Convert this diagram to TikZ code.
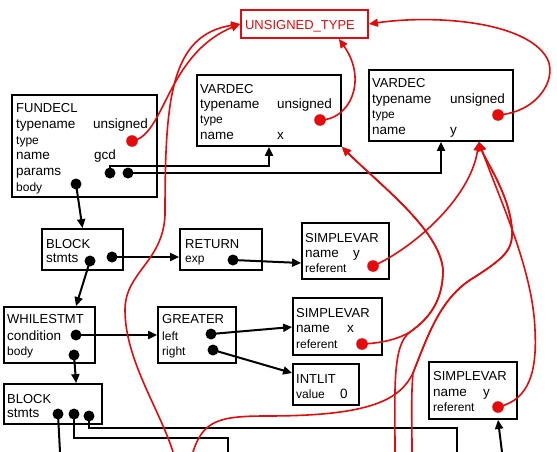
\documentclass[tikz,border=0pt]{standalone}
\usepackage{fontspec}
\setmainfont{Liberation Sans}
\usetikzlibrary{arrows.meta,calc}
\definecolor{rd}{RGB}{230,10,10}
\begin{document}
\begin{tikzpicture}[x=1pt,y=-1pt,
  box/.style={draw=black,line width=1.8pt,inner sep=0pt,rectangle},
  hd/.style={anchor=base west,inner sep=0pt,font=\fontsize{13}{13}\selectfont},
  lb/.style={anchor=base west,inner sep=0pt,font=\fontsize{13.5}{13.5}\selectfont},
  sm/.style={anchor=base west,inner sep=0pt,font=\fontsize{12}{12}\selectfont},
  blk/.style={line width=2pt,black},
  blka/.style={blk,-{Triangle[length=9pt,width=8pt]}},
  rdl/.style={line width=1.6pt,rd},
  rda/.style={rdl,-{Triangle[length=9pt,width=8pt]}},
  ]
\useasboundingbox (0,0) rectangle (557,452);
\clip (0,0) rectangle (557,452);
\fill[white] (0,0) rectangle (557,452);

% boxes
\node[box,minimum width=145pt,minimum height=102pt] (fundecl) at (84.5,146) {};
\node[box,minimum width=144pt,minimum height=71pt] (vardecx) at (269,110.5) {};
\node[box,minimum width=144pt,minimum height=71pt] (vardecy) at (441,105.5) {};
\node[box,draw=rd,minimum width=127pt,minimum height=28pt] (unsigned) at (304.5,24) {};
\node[box,minimum width=81pt,minimum height=41pt] (block1) at (82.5,249.5) {};
\node[box,minimum width=82pt,minimum height=41pt] (ret) at (221,249.5) {};
\node[box,minimum width=87pt,minimum height=56pt] (sv1) at (345.5,251) {};
\node[box,minimum width=91pt,minimum height=56pt] (while) at (49.5,335) {};
\node[box,minimum width=78pt,minimum height=56pt] (greater) at (197,335) {};
\node[box,minimum width=89pt,minimum height=57pt] (svx) at (337.5,326.5) {};
\node[box,minimum width=66pt,minimum height=41pt] (intlit) at (326,384.5) {};
\node[box,minimum width=98pt,minimum height=40pt] (block2) at (53,404) {};
\node[box,minimum width=88pt,minimum height=57pt] (sv2) at (473,390.5) {};

% texts
\node[anchor=base,inner sep=0pt,text=rd,font=\fontsize{13}{13}\selectfont] (tu) at (300,29.5) {UNSIGNED\_TYPE};

\node[hd] (f1) at (16,113) {FUNDECL};
\node[lb] (f2) at (16,128.6) {typename};
\node[sm] (f3) at (16,144.2) {type};
\node[lb] (f4) at (16,159.8) {name};
\node[lb] (f5) at (16,175.4) {params};
\node[sm] (f6) at (16,191) {body};
\node[lb] (f7) at (93,128.6) {unsigned};
\node[lb] (f8) at (94,159.8) {gcd};

\node[hd] (x1) at (200,93) {VARDEC};
\node[lb] (x2) at (200,108) {typename};
\node[sm] (x3) at (200,123) {type};
\node[lb] (x4) at (200,139) {name};
\node[lb] (x5) at (277,108) {unsigned};
\node[lb] (x6) at (277,139) {x};

\node[hd] (y1) at (372,88) {VARDEC};
\node[lb] (y2) at (372,103) {typename};
\node[sm] (y3) at (372,118) {type};
\node[lb] (y4) at (372,134) {name};
\node[lb] (y5) at (450,103) {unsigned};
\node[lb] (y6) at (450,134) {y};

\node[hd] (b11) at (46,248) {BLOCK};
\node[lb] (b12) at (46,262) {stmts};

\node[hd] (r1) at (185,248) {RETURN};
\node[sm] (r2) at (185,262) {exp};

\node[hd] (s11) at (305,242) {SIMPLEVAR};
\node[lb] (s12) at (305,257) {name};
\node[lb] (s13) at (353,257) {y};
\node[sm] (s14) at (305,272) {referent};

\node[hd] (w1) at (7,323) {WHILESTMT};
\node[lb] (w2) at (7,340) {condition};
\node[sm] (w3) at (7,355) {body};

\node[hd] (g1) at (162,323) {GREATER};
\node[sm] (g2) at (162,340) {left};
\node[sm] (g3) at (162,355) {right};

\node[hd] (sx1) at (296,317) {SIMPLEVAR};
\node[lb] (sx2) at (296,332) {name};
\node[lb] (sx3) at (347,332) {x};
\node[sm] (sx4) at (296,348) {referent};

\node[hd] (i1) at (296,383) {INTLIT};
\node[sm] (i2) at (296,398) {value};
\node[lb] (i3) at (340,398) {0};

\node[hd] (b21) at (7,403) {BLOCK};
\node[lb] (b22) at (7,417) {stmts};

\node[hd] (s21) at (433,380) {SIMPLEVAR};
\node[lb] (s22) at (433,396) {name};
\node[lb] (s23) at (483,396) {y};
\node[sm] (s24) at (433,411) {referent};

% dot coordinates
\coordinate (fdtype) at (132,141);
\coordinate (p1) at (110,173);
\coordinate (p2) at (128,173);
\coordinate (fdbody) at (76,184);
\coordinate (vxtype) at (320,120);
\coordinate (vytype) at (498,115);
\coordinate (b1a) at (90,261);
\coordinate (b1b) at (112,257);
\coordinate (retexp) at (233,260);
\coordinate (sv1ref) at (373,266);
\coordinate (whcond) at (76,335);
\coordinate (whbody) at (74,355);
\coordinate (grleft) at (211,334);
\coordinate (grright) at (213,350);
\coordinate (svxref) at (362,344);
\coordinate (b2a) at (58,414);
\coordinate (b2b) at (74,414);
\coordinate (b2c) at (89,416);
\coordinate (sv2ref) at (498,407);
% free ends at the bottom edge
\coordinate (e1) at (60,452);
\coordinate (e2) at (228,452);
\coordinate (e3) at (457,452);
\coordinate (e4) at (502,452);
\coordinate (L1) at (173,452);
\coordinate (L2) at (193,452);
\coordinate (L3) at (412,452);
\coordinate (L4) at (395,452);
\coordinate (vyin) at ($(vardecy.south east)+(-35,0)$);
\coordinate (utin) at ($(unsigned.south east)+(-30,0)$);

% black connectors
\draw[blka] (p1) -- (p1 |- 0,166) -| (vardecx.south);
\draw[blka] (p2) -| (vardecy.south);
\draw[blka] (fdbody) -- (block1.north);
\draw[blka] (b1b) -- (ret.west |- b1b);
\draw[blka] (b1a) -- (while.north -| whcond);
\draw[blka] (retexp) -- (sv1.west |- 0,263);
\draw[blka] (whcond) -- (greater.west |- whcond);
\draw[blka] (whbody) -- ($(block2.north west)+(73,0)$);
\draw[blka] (grleft) -- (svx.west |- 0,327);
\draw[blka] (grright) -- (intlit.west |- 0,373);
\draw[blk] (b2a) -- (e1);
\draw[blk] (b2b) -- (b2b |- 0,438) -| (e2);
\draw[blk] (b2c) -- (b2c |- 0,428) -| (e3);
\draw[blka] (e4) -- (sv2.south -| sv2ref);

% red connectors
\draw[rda] (fdtype) .. controls (165,136) and (166,55) .. (unsigned.west);
\draw[rda] (L1) .. controls (160,410) and (125,360) .. (125,310)
  .. controls (125,272) and (163,262) .. (165,215)
  .. controls (165,100) and (170,35) .. (unsigned.west);
\draw[rda] (vxtype) .. controls (350,120) and (368,80) .. (utin);
\draw[rda] (vytype) .. controls (540,112) and (560,75) .. (545,55)
  .. controls (520,20) and (430,15) .. (unsigned.east);
\draw[rda] (sv1ref) .. controls (410,250) and (470,200) .. (vyin);
\draw[rda] (sv2ref) .. controls (530,400) and (537,370) .. (535,330)
  .. controls (533,270) and (500,200) .. (vyin);
\draw[rda] (L2) .. controls (203,420) and (220,416) .. (267,416)
  .. controls (370,416) and (400,400) .. (413,373)
  .. controls (428,335) and (440,300) .. (470,280)
  .. controls (505,258) and (513,250) .. (512,230)
  .. controls (510,195) and (485,160) .. (vyin);
\draw[rda] (L3) .. controls (412,420) and (411,395) .. (413,373)
  .. controls (428,335) and (440,300) .. (470,280)
  .. controls (505,258) and (513,250) .. (512,230)
  .. controls (510,195) and (485,160) .. (vyin);
\draw[rda] (svxref) .. controls (385,343) and (400,338) .. (410,332)
  .. controls (430,318) and (443,300) .. (443,270)
  .. controls (440,230) and (380,185) .. (vardecx.south east);
\draw[rda] (L4) .. controls (395,390) and (392,345) .. (410,332)
  .. controls (430,318) and (443,300) .. (443,270)
  .. controls (440,230) and (380,185) .. (vardecx.south east);

% dots
\foreach \d in {p1,p2,fdbody,b1a,b1b,retexp,whcond,whbody,grleft,grright,b2a,b2b,b2c}
  \fill[black] (\d) circle (5.5);
\foreach \d in {fdtype,vxtype,vytype,sv1ref,svxref,sv2ref}
  \fill[rd] (\d) circle (5.8);
\end{tikzpicture}
\end{document}
